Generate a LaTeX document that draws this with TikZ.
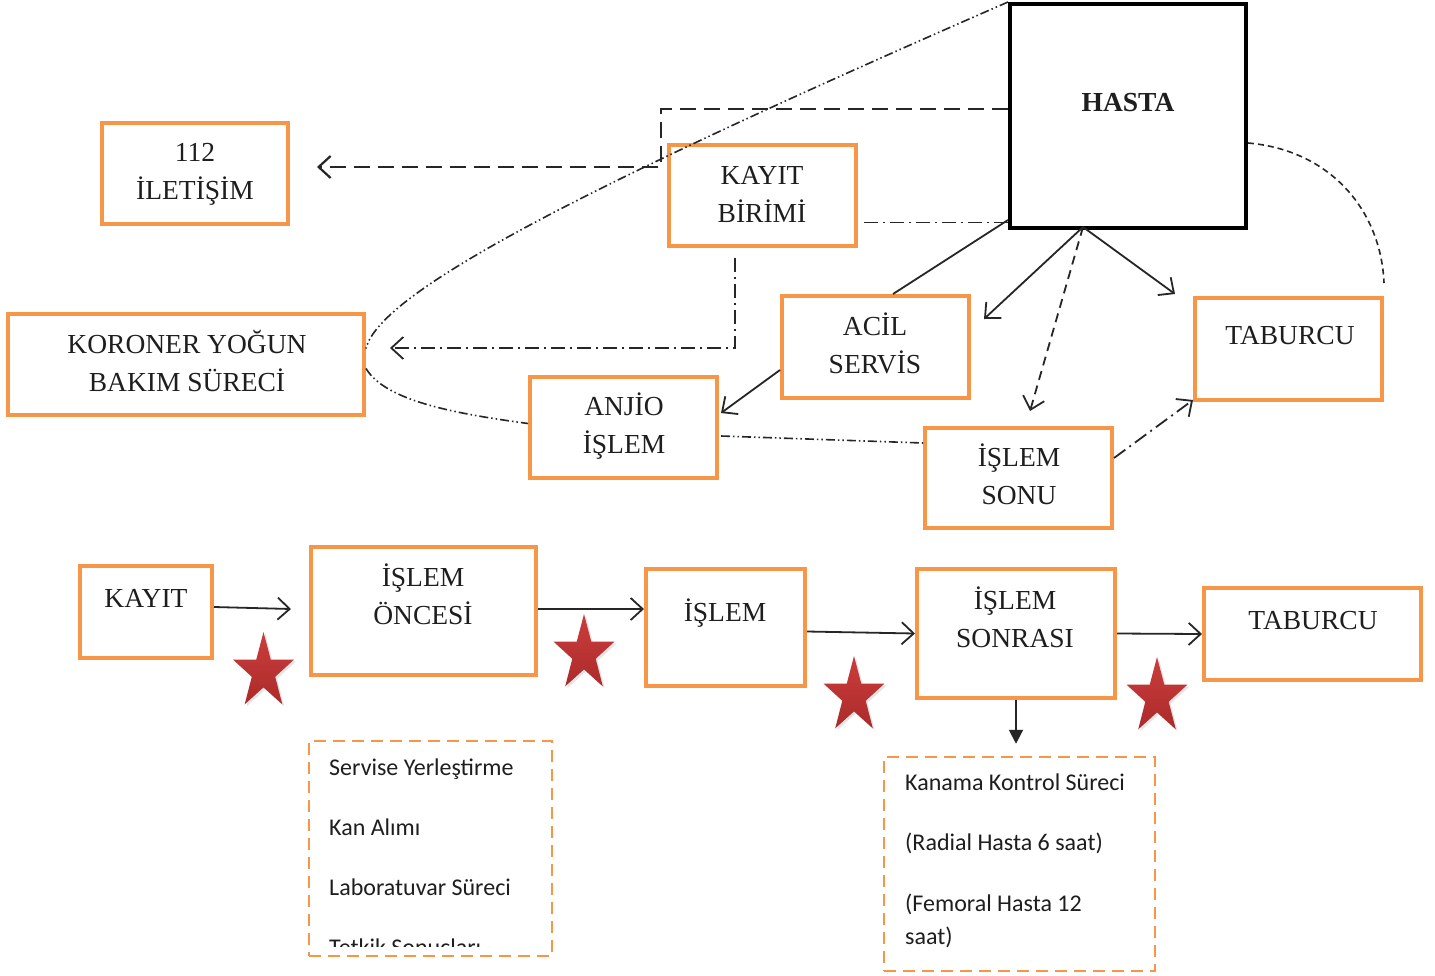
\documentclass[tikz,border=0pt]{standalone}
\usepackage{fontspec}
\setmainfont{Liberation Serif}
\newfontfamily\calibrifont{Carlito}
\usetikzlibrary{arrows.meta,shapes.geometric,shadows}
\definecolor{org}{RGB}{247,150,70}
\definecolor{txt}{RGB}{30,30,30}
\definecolor{starhi}{RGB}{202,62,60}
\definecolor{starlo}{RGB}{172,42,42}
\tikzset{
  box/.style={draw=org, line width=4pt, rectangle, inner sep=0pt},
  lbl/.style={font=\fontsize{27.5}{38}\selectfont, text=txt, align=center, inner sep=0pt},
  note/.style={font=\calibrifont\fontsize{24}{28}\selectfont, text=txt, inner sep=0pt, anchor=base west},
  conn/.style={line width=1.8pt, draw=black!85},
  arr/.style={-{Straight Barb[length=12pt,width=22pt]}},
  longdash/.style={dash pattern=on 16pt off 8pt},
  ddot/.style={line width=1.6pt, dash pattern=on 9pt off 3pt on 1.5pt off 3pt on 1.5pt off 3pt},
  dotdash/.style={dash pattern=on 14pt off 5pt on 2pt off 5pt},
  middash/.style={dash pattern=on 9pt off 6pt},
  finedash/.style={line width=1.6pt, dash pattern=on 6pt off 4pt},
  redstar/.style={star, star points=5, star point ratio=2.6, minimum size=80pt, inner sep=0pt,
    top color=starhi, bottom color=starlo, draw=none,
    drop shadow={opacity=0.2, shadow xshift=2pt, shadow yshift=-2pt}},
}
\begin{document}
\begin{tikzpicture}[x=1pt,y=-1pt]
\useasboundingbox[fill=white] (0,0) rectangle (1435,975);

% ---- top part boxes
\node[box, minimum width=186pt, minimum height=101pt] (i112) at (195,173.5) {};
\node[box, minimum width=187pt, minimum height=101pt] (kayitb) at (762.5,195.5) {};
\node[draw=black, line width=4pt, minimum width=236pt, minimum height=224pt, inner sep=0pt] (hasta) at (1128,116) {};
\node[box, minimum width=356pt, minimum height=101pt] (koroner) at (186,364.5) {};
\node[box, minimum width=187pt, minimum height=102pt] (acil) at (875.5,347) {};
\node[box, minimum width=187pt, minimum height=102pt] (tab1) at (1288.5,349) {};
\node[box, minimum width=187pt, minimum height=101pt] (anjio) at (623.5,427.5) {};
\node[box, minimum width=187pt, minimum height=100pt] (islemsonu) at (1018.5,478) {};

\node[lbl] (t112) at (195,172.5) {\strut 112\\\strut İLETİŞİM};
\node[lbl] (tkayitb) at (762,195.5) {\strut KAYIT\\\strut BİRİMİ};
\node[lbl, font=\fontsize{27.5}{38}\selectfont\bfseries] (thasta) at (1128,103.5) {\strut HASTA};
\node[lbl] (tkoroner) at (187,364.5) {\strut KORONER YOĞUN\\\strut BAKIM SÜRECİ};
\node[lbl] (tacil) at (875,346.5) {\strut ACİL\\\strut SERVİS};
\node[lbl] (ttab1) at (1290,336.5) {\strut TABURCU};
\node[lbl] (tanjio) at (624,427) {\strut ANJİO\\\strut İŞLEM};
\node[lbl] (tislemsonu) at (1019,478) {\strut İŞLEM\\\strut SONU};

% ---- top connectors
\draw[conn, line width=2.2pt, longdash, arr] ([yshift=7pt]hasta.west) -- (661,109) -- (661,167) -- ([xshift=27pt,yshift=6.5pt]i112.east);
\draw[conn, ddot] (hasta.north west) .. controls (600,180) and (380,290) .. ([yshift=16pt]koroner.east);
\draw[conn, ddot] ([yshift=-4pt]koroner.east) .. controls (385,400) and (450,413) .. ([yshift=4pt]anjio.west);
\draw[conn, ddot] ([xshift=2pt,yshift=-8.5pt]anjio.east) -- ([yshift=35pt]islemsonu.west);
\draw[conn, dotdash] ([xshift=6pt,yshift=-27pt]kayitb.east) coordinate (k1) -- (hasta.west |- k1);
\draw[conn, dotdash, arr] ([xshift=-27.5pt,yshift=-10pt]kayitb.south) -- (735,348) -- ([xshift=24pt,yshift=16.5pt]koroner.east);
\coordinate (h0) at ([xshift=-45pt,yshift=3pt]hasta.south);
\draw[conn] ([xshift=17.5pt]acil.north) -- ([yshift=10pt]hasta.south west);
\draw[conn, arr] (h0) -- ([xshift=13pt,yshift=-25pt]acil.north east);
\draw[conn, arr] (h0) -- ([xshift=-18pt,yshift=2pt]tab1.north west);
\draw[conn, middash, arr] (h0) -- ([xshift=11.5pt,yshift=15pt]islemsonu.north);
\draw[conn, arr] ([yshift=-23pt]acil.west) -- ([xshift=2pt,yshift=14.5pt]anjio.east);
\draw[conn, finedash] ([yshift=-27pt]hasta.east) .. controls (1330,150) and (1381,210) .. ([yshift=13pt]tab1.north east);
\draw[conn, dotdash, arr] ([yshift=20pt]islemsonu.east) -- ([yshift=2pt]tab1.south west);

% ---- bottom row boxes
\node[box, minimum width=132pt, minimum height=92pt] (kayit2) at (146,612) {};
\node[box, minimum width=225pt, minimum height=128pt] (oncesi) at (423.5,611) {};
\node[box, minimum width=159pt, minimum height=117pt] (islem) at (725.5,627.5) {};
\node[box, minimum width=198pt, minimum height=129pt] (sonrasi) at (1016,633.5) {};
\node[box, minimum width=217pt, minimum height=92pt] (tab2) at (1312.5,634) {};

\node[lbl] (tkayit2) at (146,599.5) {\strut KAYIT};
\node[lbl] (toncesi) at (423,598) {\strut İŞLEM\\\strut ÖNCESİ};
\node[lbl] (tislem) at (725,613.5) {\strut İŞLEM};
\node[lbl] (tsonrasi) at (1015,620.5) {\strut İŞLEM\\\strut SONRASI};
\node[lbl] (ttab2) at (1313,621.5) {\strut TABURCU};

\draw[conn, arr] ([yshift=5pt]kayit2.east) -- ([xshift=-18pt,yshift=2pt]oncesi.west);
\draw[conn, arr] ([yshift=2pt]oncesi.east) coordinate (o1) -- (islem.west |- o1);
\draw[conn, arr] ([yshift=-4pt]islem.east) -- (sonrasi.west);
\draw[conn, arr] (sonrasi.east) -- (tab2.west);

% ---- stars
\begin{scope}[shift={(263.5,672)}, xscale=0.8]
  \node[redstar, transform shape] (s1) at (0,0) {};
\end{scope}
\begin{scope}[shift={(584,654)}, xscale=0.8]
  \node[redstar, transform shape] (s2) at (0,0) {};
\end{scope}
\begin{scope}[shift={(854,696)}, xscale=0.8]
  \node[redstar, transform shape] (s3) at (0,0) {};
\end{scope}
\begin{scope}[shift={(1157,697)}, xscale=0.8]
  \node[redstar, transform shape] (s4) at (0,0) {};
\end{scope}

% ---- dashed note boxes
\node[draw=org, line width=2.5pt, dash pattern=on 12pt off 7pt, minimum width=243pt, minimum height=215pt, inner sep=0pt] (dash1) at (430.5,848.5) {};
\node[draw=org, line width=2.5pt, dash pattern=on 12pt off 7pt, minimum width=271pt, minimum height=214pt, inner sep=0pt] (dash2) at (1019.5,864) {};

\node[note] (n1) at (329,775) {Servise Yerleştirme};
\node[note] (n2) at (329,835) {Kan Alımı};
\node[note] (n3) at (329,895) {Laboratuvar Süreci};
\begin{scope}
\clip (300,700) rectangle (560,946);
\node[note] (n4) at (329,955) {Tetkik Sonuçları};
\end{scope}

\node[note] (m1) at (905,790) {Kanama Kontrol Süreci};
\node[note] (m2) at (905,850) {(Radial Hasta 6 saat)};
\node[note] (m3) at (905,911) {(Femoral Hasta 12};
\node[note] (m4) at (905,944) {saat)};

\coordinate (d2t) at ([yshift=12pt]dash2.north);
\draw[conn, line width=2pt, -{Triangle[length=14pt,width=14pt]}] (sonrasi.south) -- (d2t -| sonrasi.south);
\end{tikzpicture}
\end{document}
